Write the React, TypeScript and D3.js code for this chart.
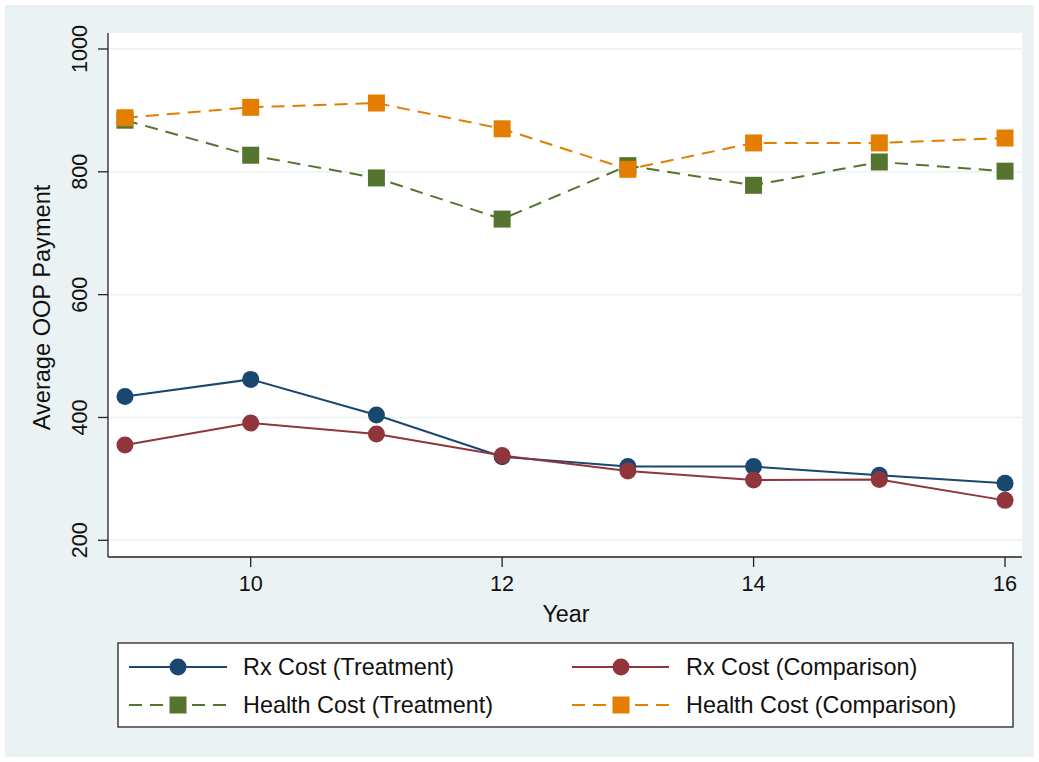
import React from "react";
import * as d3 from "d3";

const years = [9, 10, 11, 12, 13, 14, 15, 16];
const rxTreatment = [434, 462, 404, 336, 320, 320, 306, 293];
const rxComparison = [355, 391, 373, 338, 313, 298, 299, 265];
const healthTreatment = [884, 827, 790, 723, 810, 778, 816, 801];
const healthComparison = [888, 905, 912, 870, 804, 847, 847, 855];
const yTicks = [200, 400, 600, 800, 1000];
const xTicks = [10, 12, 14, 16];

const series = [
  { name: "Rx Cost (Treatment)", values: rxTreatment, color: "#1a476f", shape: "circle", dashed: false },
  { name: "Rx Cost (Comparison)", values: rxComparison, color: "#90353b", shape: "circle", dashed: false },
  { name: "Health Cost (Treatment)", values: healthTreatment, color: "#55752f", shape: "square", dashed: true },
  { name: "Health Cost (Comparison)", values: healthComparison, color: "#e37e00", shape: "square", dashed: true },
];

const W = 1039;
const H = 762;
const plot = { left: 108, right: 1022, top: 33, bottom: 557 };
const FONT = "'Liberation Sans', Arial, Helvetica, sans-serif";

export default function App() {
  const x = d3.scaleLinear().domain([8.865, 16.135]).range([plot.left, plot.right]);
  const y = d3.scaleLinear().domain([172.8, 1026]).range([plot.bottom, plot.top]);
  const line = d3
    .line<number>()
    .x((_, i) => x(years[i]))
    .y((d) => y(d));

  const legendCols = [
    { lineX0: 129, lineX1: 227, markX: 178, textX: 243 },
    { lineX0: 572, lineX1: 669, markX: 621, textX: 686 },
  ];
  const legendRows = [667, 705];

  const marker = (shape: string, cx: number, cy: number, color: string, key: string) =>
    shape === "circle" ? (
      <circle key={key} cx={cx} cy={cy} r={8.5} fill={color} />
    ) : (
      <rect key={key} x={cx - 8.5} y={cy - 8.5} width={17} height={17} fill={color} />
    );

  return (
    <svg
      width={W}
      height={H}
      style={{ position: "absolute", left: 0, top: 0, display: "block" }}
      fontFamily={FONT}
    >
      <rect x={0} y={0} width={W} height={H} fill="#ffffff" />
      <rect x={5} y={5} width={W - 10} height={H - 10} fill="#eaf2f3" />
      <rect x={plot.left} y={plot.top} width={plot.right - plot.left} height={plot.bottom - plot.top} fill="#ffffff" />

      {yTicks.map((t) => (
        <line
          key={"g" + t}
          x1={plot.left}
          x2={plot.right}
          y1={y(t)}
          y2={y(t)}
          stroke="#eaf2f3"
          strokeWidth={1.5}
        />
      ))}

      {/* axes */}
      <line x1={plot.left} x2={plot.left} y1={plot.top} y2={plot.bottom} stroke="#222" strokeWidth={1.3} />
      <line x1={plot.left} x2={plot.right} y1={plot.bottom} y2={plot.bottom} stroke="#222" strokeWidth={1.3} />

      {yTicks.map((t) => (
        <g key={"yt" + t}>
          <line x1={plot.left - 10} x2={plot.left} y1={y(t)} y2={y(t)} stroke="#222" strokeWidth={1.3} />
          <text
            transform={`translate(${plot.left - 21},${y(t)}) rotate(-90)`}
            textAnchor="middle"
            fontSize={21.6}
            fill="#111"
          >
            {t}
          </text>
        </g>
      ))}

      {xTicks.map((t) => (
        <g key={"xt" + t}>
          <line x1={x(t)} x2={x(t)} y1={plot.bottom} y2={plot.bottom + 10} stroke="#222" strokeWidth={1.3} />
          <text x={x(t)} y={plot.bottom + 34} textAnchor="middle" fontSize={21.6} fill="#111">
            {t}
          </text>
        </g>
      ))}

      <text x={566} y={622} textAnchor="middle" fontSize={23.3} fill="#111">
        Year
      </text>
      <text
        transform={`translate(50,307.5) rotate(-90)`}
        textAnchor="middle"
        fontSize={23.6}
        fill="#111"
      >
        Average OOP Payment
      </text>

      {series.map((s) => (
        <path
          key={"l" + s.name}
          d={line(s.values) || ""}
          fill="none"
          stroke={s.color}
          strokeWidth={2}
          strokeDasharray={s.dashed ? "13,8" : undefined}
        />
      ))}
      {series.map((s) => (
        <g key={"m" + s.name}>
          {s.values.map((v, i) => marker(s.shape, x(years[i]), y(v), s.color, s.name + i))}
        </g>
      ))}

      {/* legend */}
      <rect x={118} y={643} width={895} height={84} fill="#ffffff" stroke="#111" strokeWidth={1.2} />
      {series.map((s, idx) => {
        const col = legendCols[idx % 2];
        const ry = legendRows[Math.floor(idx / 2)];
        return (
          <g key={"lg" + s.name}>
            <line
              x1={col.lineX0}
              x2={col.lineX1}
              y1={ry}
              y2={ry}
              stroke={s.color}
              strokeWidth={2}
              strokeDasharray={s.dashed ? "13,8" : undefined}
            />
            {marker(s.shape, col.markX, ry, s.color, "lm" + idx)}
            <text x={col.textX} y={ry + 8} fontSize={23.4} fill="#111">
              {s.name}
            </text>
          </g>
        );
      })}
    </svg>
  );
}
